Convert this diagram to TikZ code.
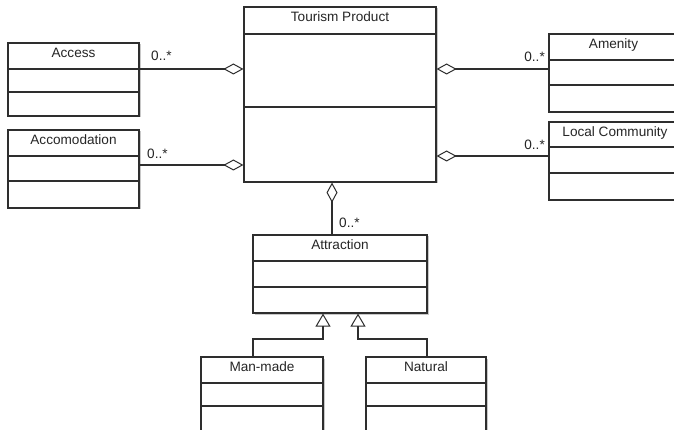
\documentclass[tikz,border=0pt]{standalone}
\usepackage{fontspec}
\setmainfont{Liberation Sans}
\usetikzlibrary{arrows.meta,fit,calc}
\definecolor{linec}{HTML}{2E2E2E}
\definecolor{shadowc}{HTML}{C8C8C8}
\tikzset{
  cls/.style={draw=linec, line width=1.2pt, fill=white, inner sep=0pt, rectangle},
  divider/.style={draw=linec, line width=1.2pt},
  ctitle/.style={anchor=base, inner sep=0pt, text=black!85, font=\fontsize{13.6}{15}\selectfont},
  mult/.style={inner sep=0pt, text=black!85, font=\fontsize{13.6}{15}\selectfont},
  agg/.style={draw=linec, line width=1.2pt, -{Diamond[open,length=20pt,width=11pt,line width=1pt]}},
  gen/.style={draw=linec, line width=1.2pt, -{Triangle[open,length=13pt,width=15pt,line width=1pt]}},
}
\newcommand\umlbox[8]{%
  \fill[shadowc] (#2+1.5,#3+1.5) rectangle (#4+1.5,#5+1.5);
  \node[cls, fit={(#2,#3) (#4,#5)}] (#1) {};
  \node[ctitle] (#1-t) at ($(#1.north)+(0,15.5)$) {#8};
  \draw[divider] (#1.west |- 0,#6) -- (#1.east |- 0,#6);
  \draw[divider] (#1.west |- 0,#7) -- (#1.east |- 0,#7);
}
\begin{document}
\begin{tikzpicture}[x=1pt,y=-1pt]
\useasboundingbox (0,0) rectangle (674,430);
\fill[white] (0,0) rectangle (674,430);
\clip (0,0) rectangle (674,430);

\umlbox{access}{8}{43}{139}{116}{69}{92}{Access}
\umlbox{accom}{8}{130}{139}{208}{156}{181}{Accomodation}
\umlbox{tp}{244}{7}{436}{182}{34}{107}{Tourism Product}
\umlbox{amen}{549}{34}{678}{112}{60}{85}{Amenity}
\umlbox{local}{549}{122}{681}{200}{147}{173}{Local Community}
\umlbox{attr}{253}{235}{427}{313}{261}{287}{Attraction}
\umlbox{mm}{201}{357}{323}{445}{383}{406}{Man-made}
\umlbox{nat}{366}{357}{486}{445}{383}{406}{Natural}

% aggregations
\draw[agg] (access.east |- 0,69) -- (tp.west |- 0,69);
\draw[agg] (accom.east |- 0,165) -- (tp.west |- 0,165);
\draw[agg] (amen.west |- 0,69) -- (tp.east |- 0,69);
\draw[agg] (local.west |- 0,156) -- (tp.east |- 0,156);
\draw[agg] (attr.north -| 332,0) -- (tp.south -| 332,0);

% multiplicities
\node[mult, anchor=base west] (m1) at (151,61) {0..*};
\node[mult, anchor=base west] (m2) at (147,159) {0..*};
\node[mult, anchor=base east] (m3) at (545,62) {0..*};
\node[mult, anchor=base east] (m4) at (545,150) {0..*};
\node[mult, anchor=base west] (m5) at (339,228) {0..*};

% generalizations
\coordinate (g1) at (323,339);
\coordinate (g2) at (358,339);
\draw[gen] (mm.north -| 253,0) |- (g1) -- (g1 |- attr.south);
\draw[gen] (nat.north -| 427,0) |- (g2) -- (g2 |- attr.south);
\end{tikzpicture}
\end{document}
